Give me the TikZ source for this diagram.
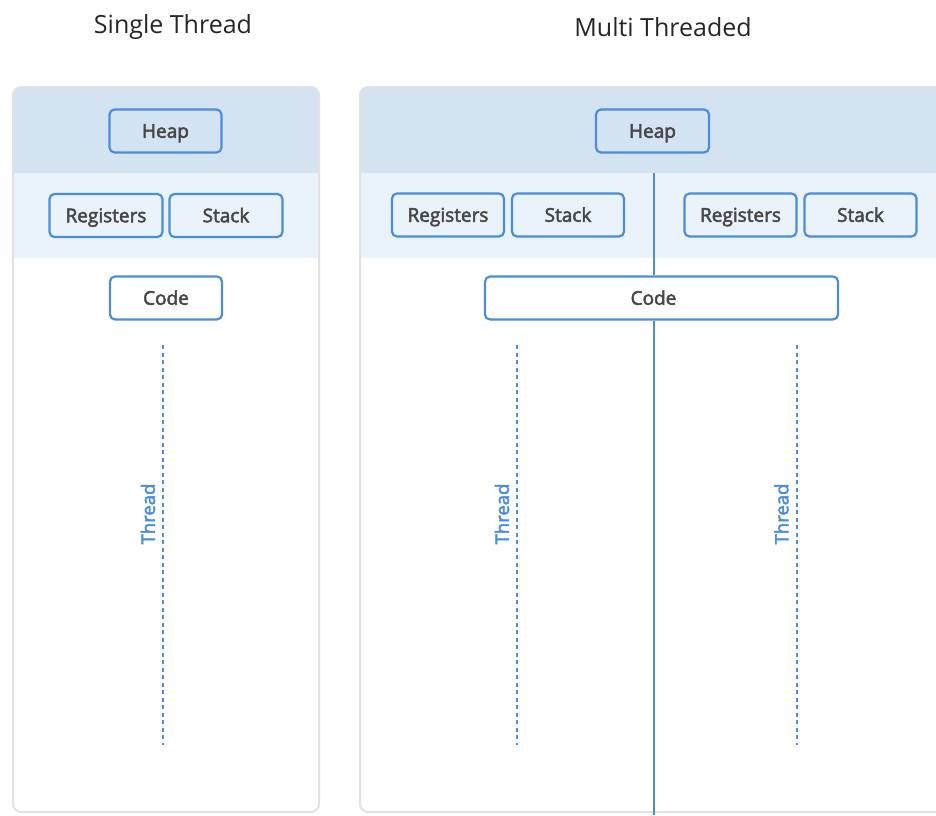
\documentclass[tikz,border=0pt]{standalone}
\usepackage{fontspec}
\setmainfont{Open Sans}
\newfontfamily\semib{Open Sans}[FakeBold=2.6]
\definecolor{bandA}{HTML}{D4E3F2}
\definecolor{bandB}{HTML}{EAF2FA}
\definecolor{blu}{HTML}{4A8EDB}
\definecolor{txt}{HTML}{474747}
\definecolor{brd}{HTML}{E2E2E2}
\tikzset{
  boxn/.style={draw=blu, line width=2.2pt, rounded corners=5pt, minimum height=43pt,
    inner sep=0pt, text height=16pt, text depth=2.5pt, text=txt, font=\semib\fontsize{19}{21}\selectfont},
  thr/.style={draw=blu, line width=2pt, dash pattern=on 4pt off 3.5pt},
  thrlab/.style={rotate=90, text=blu, font=\semib\fontsize{18.5}{20}\selectfont, inner sep=0pt},
  ttl/.style={text=black!85, font=\fontsize{25}{28}\selectfont, inner sep=0pt},
  panel/.style={draw=brd, line width=2pt, rounded corners=8pt}
}
\begin{document}
\begin{tikzpicture}[x=1pt,y=-1pt]
\useasboundingbox (0,0) rectangle (936,815);
\clip (0,0) rectangle (936,815);
% titles
\node[ttl] (t1) at (173,27) {Single Thread};
\node[ttl] (t2) at (663,27) {Multi Threaded};
% left panel
\begin{scope}
\clip[rounded corners=8pt] (13,87) rectangle (319,812);
\fill[bandA] (13,87) rectangle (319,173);
\fill[bandB] (13,173) rectangle (319,258);
\end{scope}
\draw[panel] (13,87) rectangle (319,812);
% right panel
\begin{scope}
\clip[rounded corners=8pt] (360,87) rectangle (980,812);
\fill[bandA] (360,87) rectangle (980,173);
\fill[bandB] (360,173) rectangle (980,258);
\end{scope}
\draw[panel] (360,87) rectangle (980,812);
% left nodes
\node[boxn, minimum width=112pt] (heapL) at (165.5,131) {Heap};
\node[boxn, minimum width=113pt] (regL) at (106,215.5) {Registers};
\node[boxn, minimum width=113pt] (stackL) at (226,215.5) {Stack};
\node[boxn, minimum width=112pt, fill=white] (codeL) at (166,298) {Code};
\coordinate (tLa) at (163,345);
\coordinate (tLb) at (163,745);
\draw[thr] (tLa) -- (tLb);
\node[thrlab] (labL) at (148,514) {Thread};
% right nodes
\node[boxn, minimum width=113pt] (heapR) at (652.5,131) {Heap};
\node[boxn, minimum width=112pt] (regR1) at (448,215) {Registers};
\node[boxn, minimum width=112pt] (stackR1) at (568,215) {Stack};
\node[boxn, minimum width=112pt] (regR2) at (740.5,215) {Registers};
\node[boxn, minimum width=112pt] (stackR2) at (860.5,215) {Stack};
\coordinate (vtop) at (653.5,173);
\coordinate (vbot) at (653.5,815);
\node[boxn, minimum width=353pt, fill=white] (codeR) at (661.5,298) {Code\hspace*{16pt}};
\draw[blu, line width=2pt] (vtop) -- (vtop |- codeR.north);
\draw[blu, line width=2pt] (vtop |- codeR.south) -- (vbot);
\coordinate (tR1a) at (517,345);
\coordinate (tR1b) at (517,745);
\draw[thr] (tR1a) -- (tR1b);
\node[thrlab] (labR1) at (502,514) {Thread};
\coordinate (tR2a) at (796.5,345);
\coordinate (tR2b) at (796.5,745);
\draw[thr] (tR2a) -- (tR2b);
\node[thrlab] (labR2) at (781.5,514) {Thread};
\end{tikzpicture}
\end{document}
